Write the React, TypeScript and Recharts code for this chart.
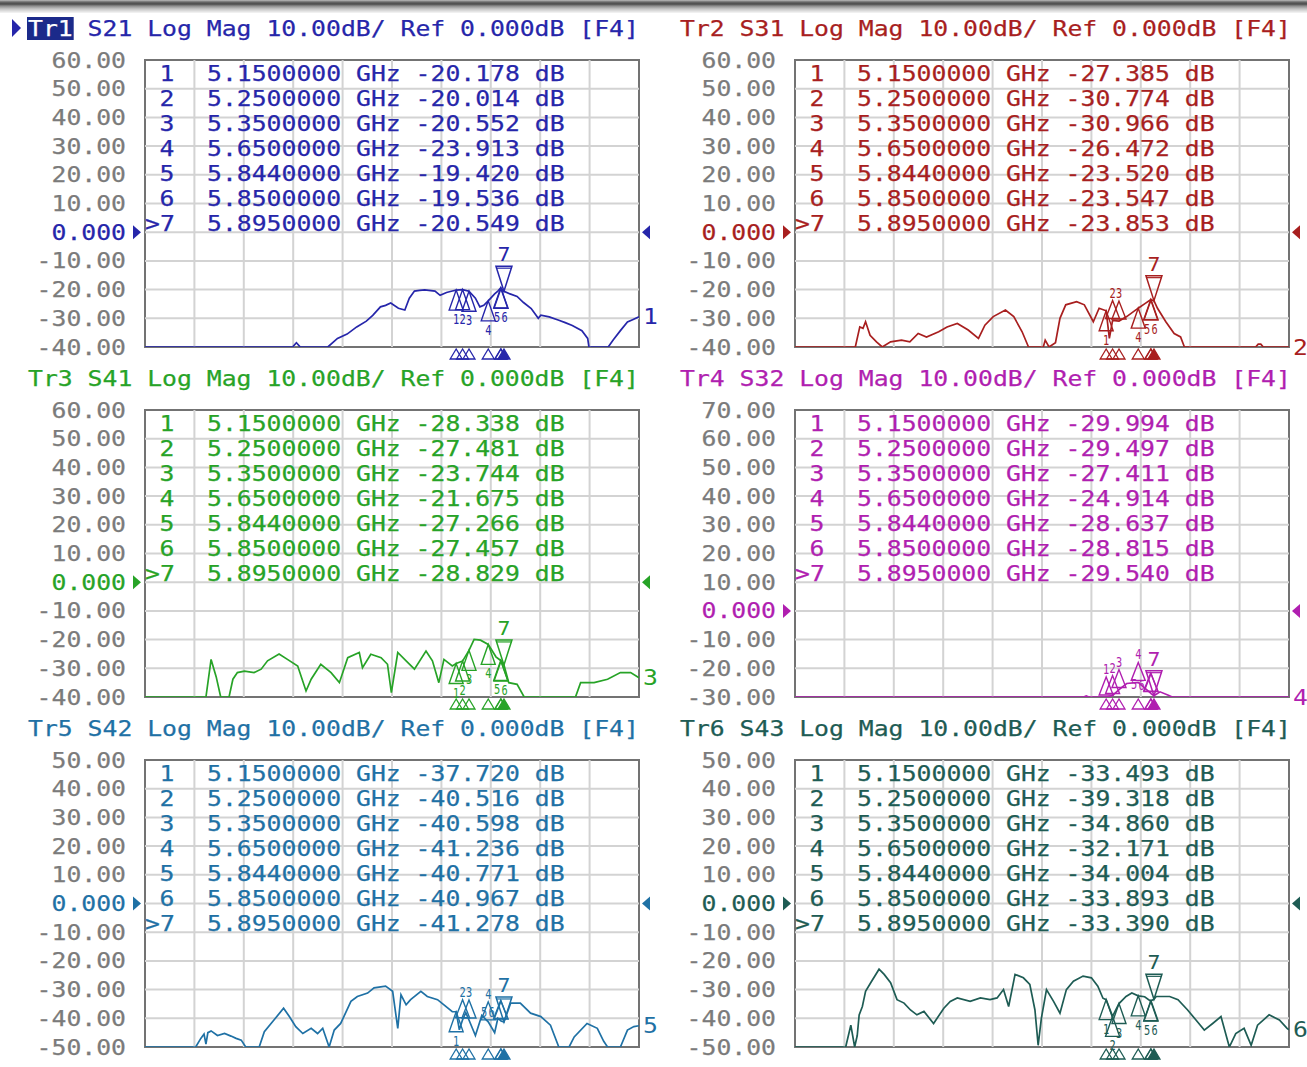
import React from 'react';
import { LineChart, Line, XAxis, YAxis, CartesianGrid, ReferenceDot } from 'recharts';

// ---- sweep / graticule -------------------------------------------------
const SWEEP_START = 0.3; // GHz
const SWEEP_STOP = 8.0; // GHz
const FREQ_GRID = [1.07, 1.84, 2.61, 3.38, 4.15, 4.92, 5.69, 6.46, 7.23];

const TICKS_60 = [60, 50, 40, 30, 20, 10, 0, -10, -20, -30, -40];
const TICKS_70 = [70, 60, 50, 40, 30, 20, 10, 0, -10, -20, -30];
const TICKS_50 = [50, 40, 30, 20, 10, 0, -10, -20, -30, -40, -50];

// ---- markers ------------------------------------------------------------
const MARKER_FREQS = [5.15, 5.25, 5.35, 5.65, 5.844, 5.85, 5.895];
const ACTIVE_MARKER = 6;

const S21_MARKERS = [-20.178, -20.014, -20.552, -23.913, -19.42, -19.536, -20.549];
const S31_MARKERS = [-27.385, -30.774, -30.966, -26.472, -23.52, -23.547, -23.853];
const S41_MARKERS = [-28.338, -27.481, -23.744, -21.675, -27.266, -27.457, -28.829];
const S32_MARKERS = [-29.994, -29.497, -27.411, -24.914, -28.637, -28.815, -29.54];
const S42_MARKERS = [-37.72, -40.516, -40.598, -41.236, -40.771, -40.967, -41.278];
const S43_MARKERS = [-33.493, -39.318, -34.86, -32.171, -34.004, -33.893, -33.39];

// ---- measured traces: [GHz, dB] (clipped at the bottom of the graticule) ---
const S21_TRACE: [number, number][] = [
  [0.3, -40], [2.6, -40], [2.66, -38.5], [2.72, -40], [3.15, -40], [3.3, -37], [3.45, -35.5],
  [3.6, -33], [3.75, -31], [3.85, -29], [3.97, -26], [4.05, -25.5], [4.13, -24.7], [4.25, -26.5],
  [4.35, -27.1], [4.42, -23], [4.5, -20.5], [4.58, -20.3], [4.66, -20.1], [4.82, -20.5], [4.9, -22],
  [5.0, -21], [5.09, -20.5], [5.45, -23], [5.52, -26], [5.58, -25.5], [5.75, -21.5], [5.8, -20.5],
  [5.99, -21.5], [6.1, -22.4], [6.2, -24.5], [6.32, -26.6], [6.43, -30], [6.47, -28.9], [6.6, -29.5],
  [6.74, -30.6], [6.85, -31.5], [6.96, -32.5], [7.11, -34.3], [7.2, -37], [7.22, -40], [7.52, -40],
  [7.6, -37.5], [7.71, -34.3], [7.82, -31.3], [7.9, -30.5], [8.0, -29.5],
];

const S31_TRACE: [number, number][] = [
  [0.3, -40], [1.24, -40], [1.31, -33], [1.36, -33.5], [1.4, -31.2], [1.47, -35.9], [1.57, -38.2],
  [1.66, -40], [1.79, -38.2], [1.96, -37.6], [2.09, -38.2], [2.22, -35.3], [2.35, -36.5], [2.54, -34.7],
  [2.67, -33], [2.83, -31.8], [3.0, -34.1], [3.16, -37], [3.26, -32.4], [3.39, -29.4], [3.58, -27.1],
  [3.71, -29.4], [3.84, -34.7], [3.94, -40], [4.17, -40], [4.2, -37.6], [4.26, -40], [4.36, -38.5],
  [4.43, -30], [4.52, -25.3], [4.69, -24.2], [4.81, -25.3], [4.95, -31.2], [5.04, -26.5], [5.2, -37],
  [5.47, -29.4], [5.76, -24.8], [5.95, -26.5], [6.08, -31.2], [6.21, -35.3], [6.31, -36.5], [6.37, -40],
  [7.48, -40], [7.52, -39], [7.56, -39], [7.6, -40], [8.0, -40],
];

const S41_TRACE: [number, number][] = [
  [0.3, -40], [1.25, -40], [1.33, -26.9], [1.41, -33], [1.48, -40], [1.61, -40], [1.67, -33.8],
  [1.74, -31.5], [1.85, -31], [2.0, -31.5], [2.11, -30.3], [2.21, -27.4], [2.39, -25], [2.52, -26.9],
  [2.68, -29.2], [2.81, -37.9], [2.89, -33.8], [3.04, -28.6], [3.2, -31.5], [3.33, -35], [3.46, -26.3],
  [3.64, -24.5], [3.69, -29.8], [3.82, -25.1], [3.98, -26.3], [4.08, -28.6], [4.14, -38.5], [4.24, -24.5],
  [4.37, -27.4], [4.5, -30.3], [4.68, -24], [4.78, -27.4], [4.88, -35], [4.96, -26.9], [5.09, -29.2],
  [5.43, -19.9], [5.53, -20.2], [5.77, -26], [5.97, -35], [6.1, -35.6], [6.21, -40], [7.01, -40],
  [7.09, -35], [7.3, -35], [7.51, -33.8], [7.71, -31.5], [7.87, -31.5], [8.0, -33.3],
];

const S32_TRACE: [number, number][] = [
  [0.3, -30], [4.8, -30], [4.84, -29.6], [4.88, -30], [5.1, -30], [5.47, -25.3], [5.73, -26.5],
  [5.99, -28.2], [6.12, -29.4], [6.18, -30], [8.0, -30],
];

const S42_TRACE: [number, number][] = [
  [0.3, -50], [1.09, -50], [1.17, -47], [1.22, -45.5], [1.25, -49], [1.28, -45], [1.33, -44.4],
  [1.43, -46], [1.54, -45.3], [1.64, -46.2], [1.72, -47], [1.8, -47.6], [1.87, -50], [2.08, -50],
  [2.16, -44.7], [2.31, -40.6], [2.46, -36.5], [2.55, -39.4], [2.65, -42.9], [2.76, -45.3], [2.89, -43.5],
  [2.99, -45.3], [3.07, -43.5], [3.17, -50], [3.25, -44.1], [3.35, -41.8], [3.51, -34.1], [3.61, -32.4],
  [3.77, -31.2], [3.87, -29.4], [4.05, -28.8], [4.16, -30.6], [4.24, -43.5], [4.29, -31.8], [4.37, -35.3],
  [4.44, -33.5], [4.6, -30.6], [4.7, -32.4], [4.86, -33.5], [4.96, -35.3], [5.09, -37.7], [5.2, -44],
  [5.3, -38], [5.45, -46], [5.55, -39], [5.75, -45], [5.8, -40], [6.0, -34.7], [6.15, -34.7],
  [6.31, -38.2], [6.47, -39.4], [6.62, -42.4], [6.75, -50], [6.91, -50], [6.99, -46.5], [7.19, -41.8],
  [7.35, -43.5], [7.45, -48], [7.51, -50], [7.71, -50], [7.82, -44.1], [7.92, -42.9], [8.0, -42.6],
];

const S43_TRACE: [number, number][] = [
  [0.3, -50], [1.09, -50], [1.17, -42.4], [1.23, -50], [1.27, -46], [1.3, -38.8], [1.35, -35.9],
  [1.4, -30.6], [1.48, -27.6], [1.61, -22.9], [1.69, -24.7], [1.79, -27.6], [1.89, -33.5], [2.0, -34.7],
  [2.1, -37.1], [2.2, -38.8], [2.31, -37.6], [2.46, -41.8], [2.62, -36.5], [2.72, -34.1], [2.83, -32.9],
  [3.03, -34.1], [3.19, -32.9], [3.34, -33.5], [3.45, -32.9], [3.55, -30], [3.63, -35.9], [3.73, -24.7],
  [3.86, -25.9], [3.96, -28.2], [4.04, -37.1], [4.09, -49.4], [4.14, -40], [4.22, -30], [4.33, -34.1],
  [4.43, -38.2], [4.53, -30], [4.64, -27.1], [4.79, -25.3], [4.92, -25.9], [5.02, -28.8], [5.1, -33],
  [5.46, -32.4], [5.55, -31.2], [5.75, -32.5], [5.93, -32.4], [6.14, -32.4], [6.27, -33.5], [6.42, -37.1],
  [6.55, -40.6], [6.68, -44.1], [6.81, -41.8], [6.94, -39.4], [7.07, -50], [7.17, -45.3], [7.3, -43.5],
  [7.41, -49.4], [7.51, -42.4], [7.69, -38.8], [7.85, -40.6], [7.97, -43.5], [8.0, -44],
];

// ---- trace setup --------------------------------------------------------
const TRACES = [
  { tr: 'Tr1', param: 'S21', color: '#2626aa', ticks: TICKS_60, trace: S21_TRACE, markers: S21_MARKERS },
  { tr: 'Tr2', param: 'S31', color: '#a81f1f', ticks: TICKS_60, trace: S31_TRACE, markers: S31_MARKERS },
  { tr: 'Tr3', param: 'S41', color: '#27a327', ticks: TICKS_60, trace: S41_TRACE, markers: S41_MARKERS },
  { tr: 'Tr4', param: 'S32', color: '#b01fb0', ticks: TICKS_70, trace: S32_TRACE, markers: S32_MARKERS },
  { tr: 'Tr5', param: 'S42', color: '#1f71a5', ticks: TICKS_50, trace: S42_TRACE, markers: S42_MARKERS },
  { tr: 'Tr6', param: 'S43', color: '#1e5c54', ticks: TICKS_50, trace: S43_TRACE, markers: S43_MARKERS },
];
const ACTIVE_TRACE = 0;

// ---- layout -------------------------------------------------------------
const PANEL_ORIGINS = [[0, 0], [650, 0], [0, 350], [650, 350], [0, 700], [650, 700]];
const CHART_W = 660;
const CHART_H = 372;
const PLOT_LEFT = 145;
const PLOT_TOP = 60;
const PLOT_W = 494;
const PLOT_H = 287;
const PLOT_BOTTOM = PLOT_TOP + PLOT_H;
const MONO = '"DejaVu Sans Mono", "Liberation Mono", monospace';
const CW = 14.9; // character advance of the instrument font
const FS = 22;
const GRAY = '#7b7b7b';
// small horizontal nudges so that coincident marker numbers sit side by side
const LABEL_NUDGE = [0, 0, 0, 0, -3.5, 3.5, 0];

function buildTrace(points: [number, number][], markerVals: number[]) {
  const pts = points.map(([f, v]) => ({ f, v }));
  MARKER_FREQS.forEach((f, i) => pts.push({ f, v: markerVals[i] }));
  pts.sort((a, b) => a.f - b.f);
  return pts;
}

function Mono({ x, y, text, color, anchor = 'start', size = FS }: any) {
  return (
    <text
      x={x}
      y={y}
      fill={color}
      stroke={color}
      strokeWidth={0.25}
      fontFamily={MONO}
      fontSize={size}
      textAnchor={anchor}
      dominantBaseline="central"
      textLength={text.length * CW}
      lengthAdjust="spacingAndGlyphs"
      xmlSpace="preserve"
    >
      {text}
    </text>
  );
}

function YTick(props: any) {
  const { y, payload, color } = props;
  const v = payload.value;
  const label = v === 0 ? '0.000' : v.toFixed(2);
  return <Mono x={PLOT_LEFT - 19} y={y} text={label} color={v === 0 ? color : GRAY} anchor="end" />;
}

function markerShape(i: number, color: string) {
  return (props: any) => {
    const { cx, cy } = props;
    const active = i === ACTIVE_MARKER;
    const num = String(i + 1);
    const nearActive = !active && Math.abs(MARKER_FREQS[i] - MARKER_FREQS[ACTIVE_MARKER]) < 0.1;
    const stim = (
      <polygon
        points={`${cx},${PLOT_BOTTOM + 2} ${cx - 6},${PLOT_BOTTOM + 12} ${cx + 6},${PLOT_BOTTOM + 12}`}
        fill={active ? color : 'none'}
        stroke={color}
        strokeWidth={1.3}
      />
    );
    const lbl = (lx: number, ly: number, size = 14, w = 6.2) => (
      <text x={lx + LABEL_NUDGE[i]} y={ly} fill={color} fontFamily={MONO} fontSize={size} textAnchor="middle"
        dominantBaseline="central" textLength={w} lengthAdjust="spacingAndGlyphs">{num}</text>
    );
    if (active) {
      return (
        <g>
          {stim}
          <polygon points={`${cx - 8},${cy - 25} ${cx + 8},${cy - 25} ${cx},${cy}`} fill="none" stroke={color} strokeWidth={1.5} />
          <line x1={cx - 8} y1={cy - 23} x2={cx + 8} y2={cy - 23} stroke={color} strokeWidth={1.2} />
          {lbl(cx, cy - 37, 20, 13)}
        </g>
      );
    }
    if (cy > PLOT_BOTTOM - 28) {
      return (
        <g>
          {stim}
          <polygon points={`${cx},${cy - 20} ${cx - 7},${cy - 2} ${cx + 7},${cy - 2}`} fill="none" stroke={color} strokeWidth={1.4} />
          {nearActive ? lbl(cx - 13, cy - 9) : lbl(cx, cy - 28)}
        </g>
      );
    }
    return (
      <g>
        {stim}
        <polygon points={`${cx},${cy} ${cx - 7},${cy + 20} ${cx + 7},${cy + 20}`} fill="none" stroke={color} strokeWidth={1.4} />
        {lbl(cx, cy + 29)}
      </g>
    );
  };
}

function Header({ cfg, active, x0 }: any) {
  const rest = `${cfg.param} Log Mag 10.00dB/ Ref 0.000dB [F4]`;
  const ty = 28;
  return (
    <g>
      {active && <polygon points={`12,19 21,28 12,37`} fill={cfg.color} />}
      {active && <rect x={x0 - 1} y={17} width={3 * CW + 2} height={23} fill="#1b2a8a" />}
      <Mono x={x0} y={ty} text={cfg.tr} color={active ? '#ffffff' : cfg.color} />
      <Mono x={x0 + 4 * CW} y={ty} text={rest} color={cfg.color} />
    </g>
  );
}

function MarkerTable({ cfg }: any) {
  return (
    <g>
      {MARKER_FREQS.map((f, k) => {
        const y = PLOT_TOP + 13 + 25 * k;
        const row = `${f.toFixed(7)} GHz ${cfg.markers[k].toFixed(3)} dB`;
        return (
          <g key={k}>
            {k === ACTIVE_MARKER ? (
              <Mono x={PLOT_LEFT} y={y} text={`>${k + 1}`} color={cfg.color} />
            ) : (
              <Mono x={PLOT_LEFT + 22} y={y} text={String(k + 1)} color={cfg.color} anchor="middle" />
            )}
            <Mono x={PLOT_LEFT + 62} y={y} text={row} color={cfg.color} />
          </g>
        );
      })}
    </g>
  );
}

function Panel({ idx }: { idx: number }) {
  const cfg = TRACES[idx];
  const [ox, oy] = PANEL_ORIGINS[idx];
  const data = buildTrace(cfg.trace, cfg.markers);
  const yMax = cfg.ticks[0];
  const yMin = cfg.ticks[cfg.ticks.length - 1];
  const innerTicks = cfg.ticks.slice(1, -1);
  const last = cfg.trace[cfg.trace.length - 1];
  const x0 = ox === 0 ? 28 : 30;

  return (
    <div style={{ position: 'absolute', left: ox, top: oy, width: CHART_W, height: CHART_H }}>
      {/* graticule frame */}
      <div
        style={{
          position: 'absolute',
          left: PLOT_LEFT - 1,
          top: PLOT_TOP - 1,
          width: PLOT_W + 2,
          height: PLOT_H + 2,
          border: '2px solid #737373',
          boxSizing: 'border-box',
        }}
      />
      <div style={{ position: 'absolute', left: 0, top: 0 }}>
        <LineChart
          width={CHART_W}
          height={CHART_H}
          data={data}
          margin={{ top: PLOT_TOP, right: CHART_W - PLOT_LEFT - PLOT_W, bottom: CHART_H - PLOT_BOTTOM, left: 0 }}
          style={{ overflow: 'visible' }}
        >
          <CartesianGrid
            stroke="#d3d3d3"
            strokeWidth={2}
            verticalValues={FREQ_GRID}
            horizontalValues={innerTicks}
          />
          <XAxis dataKey="f" type="number" domain={[SWEEP_START, SWEEP_STOP]} ticks={FREQ_GRID} hide allowDataOverflow />
          <YAxis
            type="number"
            domain={[yMin, yMax]}
            ticks={cfg.ticks}
            interval={0}
            width={PLOT_LEFT}
            axisLine={false}
            tickLine={false}
            allowDataOverflow
            tick={<YTick color={cfg.color} />}
          />
          <Line
            type="linear"
            dataKey="v"
            stroke={cfg.color}
            strokeWidth={1.7}
            dot={false}
            activeDot={false}
            isAnimationActive={false}
          />
          {/* reference level arrows */}
          <ReferenceDot
            x={SWEEP_START}
            y={0}
            shape={(p: any) => (
              <polygon points={`${p.cx - 12},${p.cy - 7} ${p.cx - 4},${p.cy} ${p.cx - 12},${p.cy + 7}`} fill={cfg.color} />
            )}
          />
          <ReferenceDot
            x={SWEEP_STOP}
            y={0}
            shape={(p: any) => (
              <polygon points={`${p.cx + 11},${p.cy - 7} ${p.cx + 3},${p.cy} ${p.cx + 11},${p.cy + 7}`} fill={cfg.color} />
            )}
          />
          {/* trace number at the end of the sweep */}
          <ReferenceDot
            x={last[0]}
            y={last[1]}
            shape={(p: any) => (
              <text x={p.cx + 4} y={p.cy} fill={cfg.color} fontFamily={MONO} fontSize={FS}
                dominantBaseline="central" textLength={CW} lengthAdjust="spacingAndGlyphs">
                {String(idx + 1)}
              </text>
            )}
          />
          {MARKER_FREQS.map((f, i) => (
            <ReferenceDot key={i} x={f} y={cfg.markers[i]} shape={markerShape(i, cfg.color)} />
          ))}
        </LineChart>
      </div>
      <svg
        width={CHART_W}
        height={CHART_H}
        style={{ position: 'absolute', left: 0, top: 0, overflow: 'visible', pointerEvents: 'none' }}
      >
        <Header cfg={cfg} active={idx === ACTIVE_TRACE} x0={x0} />
        <MarkerTable cfg={cfg} />
      </svg>
    </div>
  );
}

export default function App() {
  return (
    <div
      style={{
        position: 'absolute',
        left: 0,
        top: 0,
        width: 1307,
        height: 1067,
        background: '#ffffff',
        overflow: 'hidden',
      }}
    >
      <div
        style={{
          position: 'absolute',
          left: 0,
          top: 0,
          width: 1307,
          height: 13,
          background:
            'linear-gradient(to bottom, #bdbdbd 0px, #6a6a6a 2px, #4a4a4a 4px, #8c8c8c 6px, #c6c6c6 9px, #f6f6f6 13px)',
        }}
      />
      {TRACES.map((_, i) => (
        <Panel key={i} idx={i} />
      ))}
    </div>
  );
}
